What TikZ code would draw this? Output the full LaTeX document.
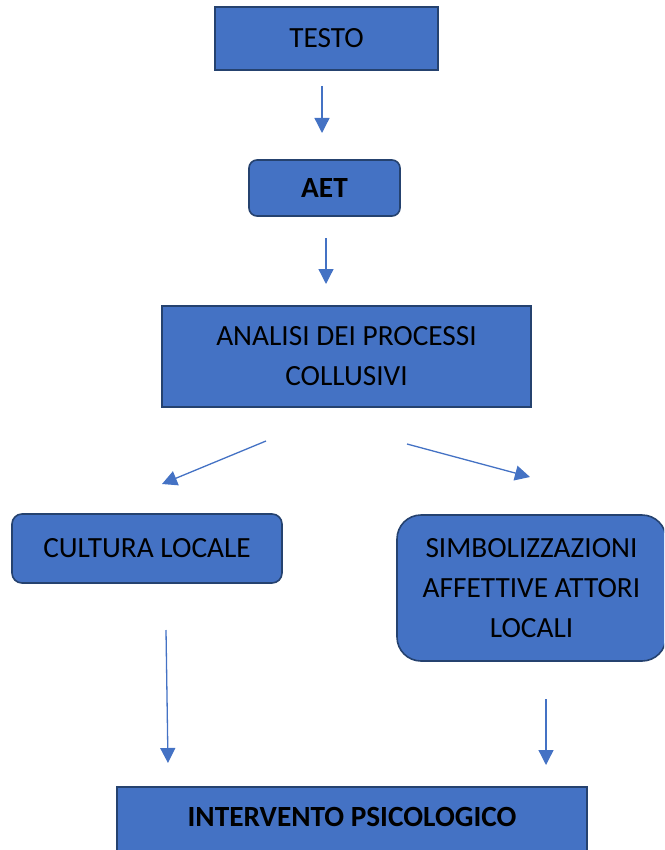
\documentclass[tikz,border=0pt]{standalone}
\usepackage{fontspec}
\setmainfont{Carlito}
\usetikzlibrary{arrows.meta}
\definecolor{boxfill}{HTML}{4472C4}
\definecolor{boxline}{HTML}{25426F}
\definecolor{arrowcol}{HTML}{4472C4}
\begin{document}
\begin{tikzpicture}[x=1pt,y=-1pt,
  box/.style={draw=boxline, fill=boxfill, line width=1.6pt, inner sep=0pt, align=center,
    font=\fontsize{29.3pt}{40pt}\selectfont, text=black},
  conn/.style={draw=arrowcol, line width=1.3pt, -{Triangle[length=15pt,width=15pt]}}]
\useasboundingbox (0,0) rectangle (664,850);
\clip (0,0) rectangle (664,850);
\node[box, minimum width=223pt, minimum height=63pt] (testo) at (326.5,38.5) {TESTO};
\node[box, rounded corners=8pt, minimum width=151pt, minimum height=56pt, font=\fontsize{29.3pt}{40pt}\selectfont\bfseries] (aet) at (324.5,188) {AET};
\node[box, minimum width=369pt, minimum height=101pt] (analisi) at (346.5,356.5) {ANALISI DEI PROCESSI\\COLLUSIVI};
\node[box, rounded corners=10pt, minimum width=270pt, minimum height=69pt] (cultura) at (147,548.5) {CULTURA LOCALE};
\node[box, rounded corners=24pt, minimum width=269pt, minimum height=146pt] (simbol) at (531.5,588) {SIMBOLIZZAZIONI\\AFFETTIVE ATTORI\\LOCALI};
\node[box, minimum width=470pt, minimum height=90pt] (interv) at (352,832) {};
\node[font=\fontsize{29.3pt}{40pt}\selectfont\bfseries, inner sep=0pt] (intervtext) at (352,817) {INTERVENTO PSICOLOGICO};
\coordinate (a1s) at (322,86);
\coordinate (a1e) at (322,133);
\coordinate (a2s) at (326,238);
\coordinate (a2e) at (326,284);
\coordinate (a3s) at (266,441);
\coordinate (a3e) at (162,484);
\coordinate (a4s) at (407,444);
\coordinate (a4e) at (530,477);
\coordinate (a5s) at (166,630);
\coordinate (a5e) at (168,763);
\coordinate (a6s) at (546,699);
\coordinate (a6e) at (546,765);
\draw[conn] (a1s) -- (a1e);
\draw[conn] (a2s) -- (a2e);
\draw[conn] (a3s) -- (a3e);
\draw[conn] (a4s) -- (a4e);
\draw[conn] (a5s) -- (a5e);
\draw[conn] (a6s) -- (a6e);
\end{tikzpicture}
\end{document}
